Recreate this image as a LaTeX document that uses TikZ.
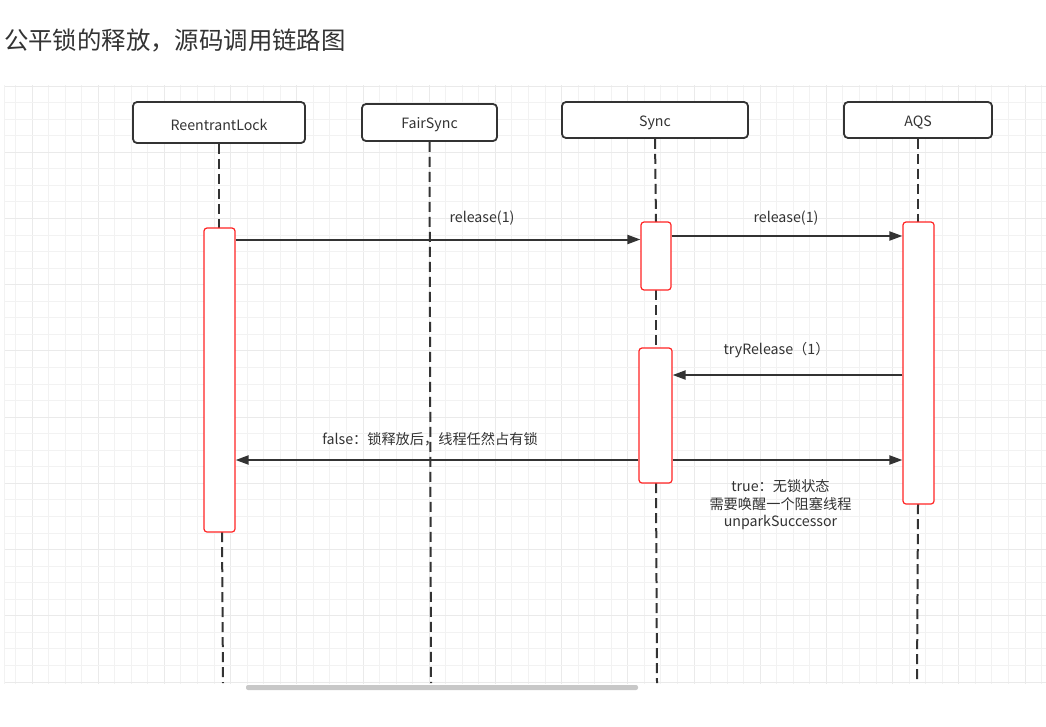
\documentclass[tikz,border=0pt]{standalone}
\usepackage{fontspec}
\setmainfont{Noto Sans CJK SC}
\usetikzlibrary{arrows.meta,calc}
\definecolor{ink}{HTML}{333333}
\definecolor{gmin}{HTML}{F2F2F2}
\definecolor{gmaj}{HTML}{EAEAEA}
\definecolor{actred}{HTML}{FF2424}
\definecolor{sbar}{HTML}{C8C8C8}
\newcommand{\lowtxt}[1]{\raisebox{-2.5pt}[\height][\depth]{#1}}
\begin{document}
\begin{tikzpicture}[x=1pt,y=-1pt,
  actor/.style={draw=ink, line width=1.8pt, rounded corners=4pt, fill=white, inner sep=0pt, text=ink, font=\fontsize{14.2}{16}\selectfont},
  act/.style={draw=actred, line width=1.2pt, rounded corners=3pt, fill=white, inner sep=0pt},
  life/.style={draw=ink, line width=2pt, dash pattern=on 10pt off 5pt},
  msg/.style={draw=ink, line width=2pt, -{Triangle[length=13pt,width=9pt]}},
  lbl/.style={text=ink, font=\fontsize{14.2}{17.5}\selectfont, inner sep=0pt, align=center},
  gminor/.style={draw=gmin, line width=1pt},
  gmajor/.style={draw=gmaj, line width=1pt}]
\useasboundingbox (0,0) rectangle (1046,726);
\fill[white] (0,0) rectangle (1046,726);

% title
\node[anchor=west, text=ink, font=\fontsize{24.4}{28}\selectfont, inner sep=0pt] (title) at (4,40) {公平锁的释放，源码调用链路图};

% grid
\begin{scope}
\clip (4,85) rectangle (1046,683.5);
\foreach \k in {0,...,63} {
  \pgfmathtruncatemacro{\m}{mod(\k+3,4)}
  \ifnum\m=0
    \draw[gmajor] ({15.45+16.55*\k},85) -- ({15.45+16.55*\k},684);
  \else
    \draw[gminor] ({15.45+16.55*\k},85) -- ({15.45+16.55*\k},684);
  \fi
}
\foreach \k in {0,...,36} {
  \pgfmathtruncatemacro{\m}{mod(\k,4)}
  \ifnum\m=0
    \draw[gmajor] (4,{86+16.556*\k}) -- (1046,{86+16.556*\k});
  \else
    \draw[gminor] (4,{86+16.556*\k}) -- (1046,{86+16.556*\k});
  \fi
}
\draw[gminor] (4.5,85) -- (4.5,684);
\end{scope}

% scrollbar
\fill[sbar, rounded corners=2pt] (246,685) rectangle (638,690);

% actors
\node[actor, minimum width=172pt, minimum height=41pt] (rl) at (219,122.5) {\lowtxt{ReentrantLock}};
\node[actor, minimum width=135pt, minimum height=37pt] (fs) at (429.5,122.5) {\lowtxt{FairSync}};
\node[actor, minimum width=186pt, minimum height=36pt] (sy) at (655,120) {\lowtxt{Sync}};
\node[actor, minimum width=148pt, minimum height=36pt] (aqs) at (918,120) {\lowtxt{AQS}};

% end points of lifelines
\coordinate (rlend) at (223,683);
\coordinate (fsend) at (431,683);
\coordinate (syend) at (657,683);
\coordinate (aqsend) at (917,683);

% activation box centres
\coordinate (a1c) at (219.5,380);
\coordinate (a2c) at (656,256);
\coordinate (a3c) at (918.5,363);
\coordinate (a4c) at (655.5,415.5);

% lifelines
\draw[life] (rl.south) -- (219,228);
\draw[life] (222,532) -- (rlend);
\draw[life] (fs.south) -- (fsend);
\draw[life] (sy.south) -- (656,222);
\draw[life] (656,290) -- (656,348);
\draw[life] (656,483) -- (syend);
\draw[life] (aqs.south) -- (918,222);
\draw[life] (918,504) -- (aqsend);

\node[act, minimum width=31pt, minimum height=304pt] (a1) at (a1c) {};
\node[act, minimum width=30pt, minimum height=68pt] (a2) at (a2c) {};
\node[act, minimum width=31pt, minimum height=282pt] (a3) at (a3c) {};
\node[act, minimum width=33pt, minimum height=135pt] (a4) at (a4c) {};

% message levels
\coordinate (y1) at (0,239.5);
\coordinate (y2) at (0,236);
\coordinate (y3) at (0,375);
\coordinate (y4) at (0,460);

\draw[msg] (a1.east |- y1) -- (a2.west |- y1);
\draw[msg] (a2.east |- y2) -- (a3.west |- y2);
\draw[msg] (a3.west |- y3) -- (a4.east |- y3);
\draw[msg] (a4.west |- y4) -- (a1.east |- y4);
\draw[msg] (a4.east |- y4) -- (a3.west |- y4);

% labels
\node[lbl] (l1) at (482,218) {release(1)};
\node[lbl] (l2) at (786,218) {release(1)};
\node[lbl] (l3) at (776.5,350) {tryRelease（1）};
\node[lbl] (l4) at (430,439) {false：锁释放后，线程任然占有锁};
\node[lbl] (l5) at (780.5,505) {true：无锁状态\\需要唤醒一个阻塞线程\\unparkSuccessor};
\end{tikzpicture}
\end{document}
